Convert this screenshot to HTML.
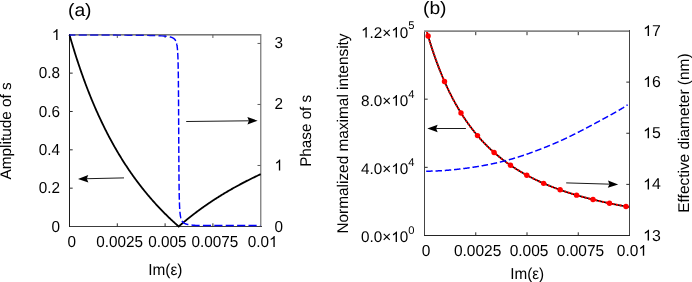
<!DOCTYPE html>
<html><head><meta charset="utf-8"><title>figure</title>
<style>
html,body{margin:0;padding:0;background:#fff;}
body{width:692px;height:282px;overflow:hidden;font-family:"Liberation Sans",sans-serif;}
text{text-rendering:geometricPrecision;}
svg{display:block;position:absolute;left:0;top:0;will-change:transform;}
</style></head><body>
<svg width="692" height="282" viewBox="0 0 692 282">
<rect width="692" height="282" fill="#fff"/>
<rect x="69" y="34" width="193" height="1" fill="#858585" shape-rendering="crispEdges"/>
<rect x="69" y="35" width="193" height="1" fill="#c8c8c8" shape-rendering="crispEdges"/>
<rect x="260" y="34" width="1" height="193" fill="#8a8a8a" shape-rendering="crispEdges"/>
<rect x="261" y="34" width="1" height="193" fill="#cacaca" shape-rendering="crispEdges"/>
<rect x="69" y="226" width="193" height="1" fill="#3c3c3c" shape-rendering="crispEdges"/>
<rect x="69" y="34" width="1" height="193" fill="#1c1c1c" shape-rendering="crispEdges"/>
<path d="M117.30,226.5 v-3.2" stroke="#2a2a2a" stroke-width="1"/>
<path d="M117.30,34.8 v3.2" stroke="#5e5e5e" stroke-width="1"/>
<path d="M165.10,226.5 v-3.2" stroke="#2a2a2a" stroke-width="1"/>
<path d="M165.10,34.8 v3.2" stroke="#5e5e5e" stroke-width="1"/>
<path d="M212.90,226.5 v-3.2" stroke="#2a2a2a" stroke-width="1"/>
<path d="M212.90,34.8 v3.2" stroke="#5e5e5e" stroke-width="1"/>
<path d="M69.5,188.16 h3.2" stroke="#2a2a2a" stroke-width="1"/>
<path d="M69.5,149.82 h3.2" stroke="#2a2a2a" stroke-width="1"/>
<path d="M69.5,111.48 h3.2" stroke="#2a2a2a" stroke-width="1"/>
<path d="M69.5,73.14 h3.2" stroke="#2a2a2a" stroke-width="1"/>
<path d="M260.7,165.48 h-3.2" stroke="#5e5e5e" stroke-width="1"/>
<path d="M260.7,104.46 h-3.2" stroke="#5e5e5e" stroke-width="1"/>
<path d="M260.7,43.44 h-3.2" stroke="#5e5e5e" stroke-width="1"/>
<path d="M69.50,34.80 L69.98,36.47 L70.46,38.13 L70.93,39.77 L71.41,41.40 L71.89,43.01 L72.37,44.61 L72.85,46.20 L73.32,47.77 L73.80,49.33 L74.28,50.88 L74.76,52.41 L75.24,53.93 L75.71,55.44 L76.19,56.94 L76.67,58.42 L77.15,59.89 L77.63,61.35 L78.10,62.80 L78.58,64.24 L79.06,65.66 L79.54,67.08 L80.02,68.48 L80.49,69.87 L80.97,71.25 L81.45,72.62 L81.93,73.98 L82.41,75.32 L82.88,76.66 L83.36,77.99 L83.84,79.30 L84.32,80.61 L84.80,81.91 L85.27,83.19 L85.75,84.47 L86.23,85.74 L86.71,86.99 L87.19,88.24 L87.66,89.48 L88.14,90.71 L88.62,91.93 L89.10,93.14 L89.58,94.34 L90.05,95.53 L90.53,96.72 L91.01,97.89 L91.49,99.06 L91.97,100.22 L92.44,101.37 L92.92,102.51 L93.40,103.64 L93.88,104.77 L94.36,105.89 L94.83,107.00 L95.31,108.10 L95.79,109.19 L96.27,110.28 L96.75,111.36 L97.22,112.43 L97.70,113.49 L98.18,114.55 L98.66,115.60 L99.14,116.64 L99.61,117.68 L100.09,118.70 L100.57,119.72 L101.05,120.74 L101.53,121.74 L102.00,122.74 L102.48,123.74 L102.96,124.72 L103.44,125.70 L103.92,126.68 L104.39,127.64 L104.87,128.61 L105.35,129.56 L105.83,130.51 L106.31,131.45 L106.78,132.39 L107.26,133.31 L107.74,134.24 L108.22,135.16 L108.70,136.07 L109.17,136.97 L109.65,137.87 L110.13,138.77 L110.61,139.66 L111.09,140.54 L111.56,141.42 L112.04,142.29 L112.52,143.16 L113.00,144.02 L113.48,144.87 L113.95,145.72 L114.43,146.57 L114.91,147.41 L115.39,148.24 L115.87,149.07 L116.34,149.90 L116.82,150.72 L117.30,151.53 L117.78,152.34 L118.26,153.14 L118.73,153.94 L119.21,154.74 L119.69,155.53 L120.17,156.31 L120.65,157.09 L121.12,157.87 L121.60,158.64 L122.08,159.41 L122.56,160.17 L123.04,160.93 L123.51,161.68 L123.99,162.43 L124.47,163.18 L124.95,163.92 L125.43,164.65 L125.90,165.38 L126.38,166.11 L126.86,166.84 L127.34,167.55 L127.82,168.27 L128.29,168.98 L128.77,169.69 L129.25,170.39 L129.73,171.09 L130.21,171.79 L130.68,172.48 L131.16,173.16 L131.64,173.85 L132.12,174.53 L132.60,175.20 L133.07,175.88 L133.55,176.54 L134.03,177.21 L134.51,177.87 L134.99,178.53 L135.46,179.18 L135.94,179.83 L136.42,180.48 L136.90,181.12 L137.38,181.76 L137.85,182.40 L138.33,183.03 L138.81,183.66 L139.29,184.29 L139.77,184.91 L140.24,185.53 L140.72,186.15 L141.20,186.76 L141.68,187.37 L142.16,187.98 L142.63,188.58 L143.11,189.18 L143.59,189.78 L144.07,190.37 L144.55,190.96 L145.02,191.55 L145.50,192.14 L145.98,192.72 L146.46,193.30 L146.94,193.87 L147.41,194.45 L147.89,195.02 L148.37,195.58 L148.85,196.15 L149.33,196.71 L149.80,197.27 L150.28,197.83 L150.76,198.38 L151.24,198.93 L151.72,199.48 L152.19,200.02 L152.67,200.56 L153.15,201.10 L153.63,201.64 L154.11,202.17 L154.58,202.70 L155.06,203.23 L155.54,203.76 L156.02,204.28 L156.50,204.80 L156.97,205.32 L157.45,205.84 L157.93,206.35 L158.41,206.86 L158.89,207.37 L159.36,207.88 L159.84,208.38 L160.32,208.88 L160.80,209.38 L161.28,209.88 L161.75,210.37 L162.23,210.87 L162.71,211.36 L163.19,211.84 L163.67,212.33 L164.14,212.81 L164.62,213.29 L165.10,213.77 L165.58,214.25 L166.06,214.72 L166.53,215.19 L167.01,215.66 L167.49,216.13 L167.97,216.59 L168.45,217.06 L168.92,217.52 L169.40,217.98 L169.88,218.43 L170.36,218.89 L170.84,219.34 L171.31,219.79 L171.79,220.24 L172.27,220.68 L172.75,221.13 L173.23,221.57 L173.70,222.01 L174.18,222.45 L174.66,222.89 L175.14,223.32 L175.62,223.75 L176.09,224.18 L176.57,224.61 L177.05,225.04 L177.53,225.47 L178.01,225.89 L178.48,226.31 L178.70,226.50 L178.96,226.27 L179.44,225.85 L179.92,225.44 L180.40,225.02 L180.87,224.61 L181.35,224.20 L181.83,223.79 L182.31,223.38 L182.79,222.98 L183.26,222.58 L183.74,222.17 L184.22,221.77 L184.70,221.38 L185.18,220.98 L185.65,220.58 L186.13,220.19 L186.61,219.80 L187.09,219.41 L187.57,219.02 L188.04,218.63 L188.52,218.25 L189.00,217.87 L189.48,217.48 L189.96,217.10 L190.43,216.73 L190.91,216.35 L191.39,215.97 L191.87,215.60 L192.35,215.23 L192.82,214.86 L193.30,214.49 L193.78,214.12 L194.26,213.75 L194.74,213.39 L195.21,213.02 L195.69,212.66 L196.17,212.30 L196.65,211.94 L197.13,211.58 L197.60,211.23 L198.08,210.87 L198.56,210.52 L199.04,210.17 L199.52,209.82 L199.99,209.47 L200.47,209.12 L200.95,208.78 L201.43,208.43 L201.91,208.09 L202.38,207.75 L202.86,207.40 L203.34,207.06 L203.82,206.73 L204.30,206.39 L204.77,206.05 L205.25,205.72 L205.73,205.39 L206.21,205.06 L206.69,204.73 L207.16,204.40 L207.64,204.07 L208.12,203.74 L208.60,203.42 L209.08,203.09 L209.55,202.77 L210.03,202.45 L210.51,202.13 L210.99,201.81 L211.47,201.49 L211.94,201.18 L212.42,200.86 L212.90,200.55 L213.38,200.23 L213.86,199.92 L214.33,199.61 L214.81,199.30 L215.29,198.99 L215.77,198.68 L216.25,198.38 L216.72,198.07 L217.20,197.77 L217.68,197.47 L218.16,197.17 L218.64,196.87 L219.11,196.57 L219.59,196.27 L220.07,195.97 L220.55,195.67 L221.03,195.38 L221.50,195.09 L221.98,194.79 L222.46,194.50 L222.94,194.21 L223.42,193.92 L223.89,193.63 L224.37,193.34 L224.85,193.06 L225.33,192.77 L225.81,192.49 L226.28,192.21 L226.76,191.92 L227.24,191.64 L227.72,191.36 L228.20,191.08 L228.67,190.80 L229.15,190.53 L229.63,190.25 L230.11,189.97 L230.59,189.70 L231.06,189.43 L231.54,189.15 L232.02,188.88 L232.50,188.61 L232.98,188.34 L233.45,188.07 L233.93,187.81 L234.41,187.54 L234.89,187.27 L235.37,187.01 L235.84,186.74 L236.32,186.48 L236.80,186.22 L237.28,185.96 L237.76,185.70 L238.23,185.44 L238.71,185.18 L239.19,184.92 L239.67,184.66 L240.15,184.41 L240.62,184.15 L241.10,183.90 L241.58,183.65 L242.06,183.39 L242.54,183.14 L243.01,182.89 L243.49,182.64 L243.97,182.39 L244.45,182.14 L244.93,181.90 L245.40,181.65 L245.88,181.40 L246.36,181.16 L246.84,180.91 L247.32,180.67 L247.79,180.43 L248.27,180.19 L248.75,179.95 L249.23,179.71 L249.71,179.47 L250.18,179.23 L250.66,178.99 L251.14,178.75 L251.62,178.52 L252.10,178.28 L252.57,178.05 L253.05,177.81 L253.53,177.58 L254.01,177.35 L254.49,177.12 L254.96,176.88 L255.44,176.65 L255.92,176.43 L256.40,176.20 L256.88,175.97 L257.35,175.74 L257.83,175.52 L258.31,175.29 L258.79,175.06 L259.27,174.84 L259.74,174.62 L260.22,174.39 L260.70,174.17" fill="none" stroke="#000" stroke-width="1.8" stroke-linejoin="miter"/>
<path d="M69.50,34.97 L71.51,34.97 L73.52,34.97 L75.45,34.98M78.70,34.98 L79.55,34.98 L81.56,34.99 L83.57,34.99 L85.58,35.00 L86.85,35.00M90.10,35.01 L91.61,35.01 L93.62,35.02 L95.63,35.02 L97.64,35.03 L98.25,35.03M101.50,35.04 L101.66,35.04 L103.67,35.04 L105.68,35.05 L107.69,35.06 L109.65,35.07M112.90,35.08 L113.72,35.08 L115.73,35.09 L117.74,35.10 L119.76,35.11 L121.05,35.12M124.30,35.14 L125.79,35.15 L127.80,35.16 L129.81,35.17 L131.82,35.19 L132.45,35.20M135.70,35.23 L135.84,35.23 L137.85,35.25 L139.86,35.27 L141.87,35.30 L143.85,35.33M147.10,35.38 L147.90,35.39 L149.91,35.44 L151.92,35.48 L153.93,35.54 L155.24,35.58M158.49,35.71 L159.96,35.78 L161.97,35.89 L163.98,36.04 L165.99,36.24 L166.60,36.32M169.78,36.85 L169.81,36.86 L169.85,36.87 L169.90,36.88 L169.94,36.89 L169.98,36.90 L170.03,36.91 L170.07,36.92 L170.12,36.93 L170.16,36.94 L170.20,36.95 L170.25,36.97 L170.29,36.98 L170.34,36.99 L170.38,37.00 L170.42,37.01 L170.47,37.02 L170.51,37.03 L170.56,37.05 L170.60,37.06 L170.65,37.07 L170.69,37.08 L170.73,37.10 L170.78,37.11 L170.82,37.12 L170.87,37.14 L170.91,37.15 L170.95,37.16 L171.00,37.18 L171.04,37.19 L171.09,37.20 L171.13,37.22 L171.17,37.23 L171.22,37.25 L171.26,37.26 L171.31,37.27 L171.35,37.29 L171.39,37.30 L171.44,37.32 L171.48,37.34 L171.53,37.35 L171.57,37.37 L171.62,37.38 L171.66,37.40 L171.70,37.41 L171.75,37.43 L171.79,37.45 L171.84,37.47 L171.88,37.48 L171.92,37.50 L171.97,37.52 L172.01,37.54 L172.06,37.55 L172.10,37.57 L172.14,37.59 L172.19,37.61 L172.23,37.63 L172.28,37.65 L172.32,37.67 L172.36,37.69 L172.41,37.71 L172.45,37.73 L172.50,37.75 L172.54,37.77 L172.59,37.79 L172.63,37.81 L172.67,37.84 L172.72,37.86 L172.76,37.88 L172.81,37.90 L172.85,37.93 L172.89,37.95 L172.94,37.97 L172.98,38.00 L173.03,38.02 L173.07,38.05 L173.11,38.07 L173.16,38.10 L173.20,38.13 L173.25,38.15 L173.29,38.18 L173.33,38.21 L173.38,38.24 L173.42,38.27 L173.47,38.29 L173.51,38.32 L173.56,38.35 L173.60,38.38 L173.64,38.42 L173.69,38.45 L173.73,38.48 L173.78,38.51 L173.82,38.55 L173.86,38.58 L173.91,38.61 L173.95,38.65 L174.00,38.69 L174.04,38.72 L174.08,38.76 L174.13,38.80 L174.17,38.84 L174.22,38.88 L174.26,38.92 L174.30,38.96 L174.35,39.00 L174.39,39.04 L174.44,39.09 L174.48,39.13 L174.53,39.18 L174.57,39.22 L174.61,39.27 L174.66,39.32 L174.70,39.37 L174.75,39.42 L174.79,39.47 L174.83,39.53 L174.88,39.58 L174.92,39.64 L174.97,39.69 L175.01,39.75 L175.05,39.81 L175.10,39.87 L175.14,39.93 L175.19,40.00 L175.23,40.06 L175.27,40.13 L175.32,40.20 L175.36,40.27 L175.41,40.34 L175.45,40.42 L175.49,40.50 L175.54,40.57 L175.58,40.66 L175.63,40.74 L175.67,40.82 L175.72,40.91 L175.75,40.98M176.62,43.55 L176.64,43.63 L176.69,43.82 L176.73,44.02 L176.77,44.23 L176.82,44.44 L176.86,44.67 L176.91,44.91 L176.95,45.16 L176.99,45.42 L177.04,45.70 L177.08,45.99 L177.13,46.29 L177.17,46.62 L177.21,46.96 L177.26,47.32 L177.30,47.70 L177.35,48.11 L177.39,48.55 L177.43,49.01 L177.48,49.50 L177.52,50.03 L177.53,50.18M177.71,52.84 L177.74,53.35 L177.79,54.18 L177.83,55.10 L177.88,56.10 L177.92,57.20 L177.96,58.42 L178.00,59.52M178.08,62.18 L178.10,62.94 L178.14,64.82 L178.18,66.95 L178.22,68.87M178.26,71.53 L178.27,72.14 L178.32,75.32 L178.35,78.21M178.38,80.88 L178.40,83.22 L178.44,87.56M178.47,90.22 L178.49,93.79 L178.51,96.91M178.53,99.57 L178.54,100.29 L178.57,106.25M178.59,108.92 L178.62,115.60M178.64,118.27 L178.67,124.44 L178.67,124.95M178.69,127.61 L178.71,133.38 L178.72,134.30M178.73,136.96 L178.76,142.21 L178.77,143.64M178.78,146.31 L178.80,150.58 L178.82,152.99M178.83,155.66 L178.85,158.24 L178.87,162.34M178.89,165.00 L178.89,165.07 L178.93,171.05 L178.94,171.68M178.96,174.35 L178.98,176.25 L179.02,180.74 L179.03,181.03M179.06,183.70 L179.07,184.61 L179.11,187.97 L179.15,190.38M179.19,193.04 L179.20,193.44 L179.24,195.68 L179.29,197.65 L179.33,199.41 L179.34,199.72M179.42,202.39 L179.46,203.64 L179.51,204.78 L179.55,205.82 L179.60,206.77 L179.64,207.64 L179.68,208.43 L179.72,209.07M179.92,211.73 L179.95,212.10 L179.99,212.58 L180.04,213.02 L180.08,213.44 L180.12,213.83 L180.17,214.20 L180.21,214.55 L180.26,214.88 L180.30,215.19 L180.34,215.49 L180.39,215.77 L180.43,216.04 L180.48,216.29 L180.52,216.54 L180.57,216.77 L180.61,216.99 L180.65,217.20 L180.70,217.40 L180.74,217.60 L180.79,217.78 L180.83,217.96 L180.87,218.13 L180.92,218.30 L180.93,218.35M181.95,220.88 L181.98,220.93 L182.02,221.00 L182.06,221.07 L182.11,221.14 L182.15,221.21 L182.20,221.28 L182.24,221.34 L182.28,221.40 L182.33,221.47 L182.37,221.53 L182.42,221.59 L182.46,221.64 L182.51,221.70 L182.55,221.75 L182.59,221.81 L182.64,221.86 L182.68,221.91 L182.73,221.96 L182.77,222.01 L182.81,222.06 L182.86,222.10 L182.90,222.15 L182.95,222.20 L182.99,222.24 L183.03,222.28 L183.08,222.33 L183.12,222.37 L183.17,222.41 L183.21,222.45 L183.25,222.49 L183.30,222.52 L183.34,222.56 L183.39,222.60 L183.43,222.64 L183.47,222.67 L183.52,222.71 L183.56,222.74 L183.61,222.77 L183.65,222.81 L183.70,222.84 L183.74,222.87 L183.78,222.90 L183.83,222.93 L183.87,222.96 L183.92,222.99 L183.96,223.02 L184.00,223.05 L184.05,223.08 L184.09,223.11 L184.14,223.14 L184.18,223.16 L184.22,223.19 L184.27,223.22 L184.31,223.24 L184.36,223.27 L184.40,223.29 L184.44,223.32 L184.49,223.34 L184.53,223.36 L184.58,223.39 L184.62,223.41 L184.67,223.43 L184.71,223.46 L184.75,223.48 L184.80,223.50 L184.84,223.52 L184.89,223.54 L184.93,223.56 L184.97,223.58 L185.02,223.60 L185.06,223.62 L185.11,223.64 L185.15,223.66 L185.19,223.68 L185.24,223.70 L185.28,223.72 L185.33,223.74 L185.37,223.76 L185.41,223.78 L185.46,223.79 L185.50,223.81 L185.55,223.83 L185.59,223.85 L185.64,223.86 L185.68,223.88 L185.72,223.90 L185.77,223.91 L185.81,223.93 L185.86,223.94 L185.90,223.96 L185.94,223.97 L185.99,223.99 L186.03,224.00 L186.08,224.02 L186.12,224.03 L186.16,224.05 L186.21,224.06 L186.25,224.08 L186.30,224.09 L186.34,224.11 L186.38,224.12 L186.43,224.13 L186.47,224.15 L186.52,224.16 L186.56,224.17 L186.61,224.19 L186.65,224.20 L186.69,224.21 L186.74,224.22 L186.78,224.24 L186.83,224.25 L186.87,224.26 L186.91,224.27 L186.96,224.28 L187.00,224.30 L187.05,224.31 L187.09,224.32 L187.13,224.33 L187.18,224.34 L187.22,224.35 L187.27,224.36 L187.31,224.37 L187.35,224.39 L187.40,224.40 L187.44,224.41 L187.49,224.42 L187.53,224.43 L187.58,224.44 L187.62,224.45 L187.66,224.46 L187.71,224.47 L187.75,224.48 L187.80,224.49 L187.84,224.50 L187.88,224.51 L187.93,224.52 L187.97,224.53 L188.02,224.54 L188.06,224.54 L188.10,224.55 L188.15,224.56 L188.19,224.57 L188.24,224.58 L188.28,224.59 L188.32,224.60 L188.33,224.60M191.53,225.07 L192.87,225.21 L194.30,225.33 L195.73,225.43 L197.16,225.51 L198.60,225.55 L199.65,225.55M202.90,225.55 L204.33,225.55 L205.76,225.55 L207.19,225.55 L208.62,225.55 L210.06,225.55 L211.05,225.55M214.30,225.55 L214.36,225.55 L215.79,225.55 L217.22,225.55 L218.65,225.55 L220.09,225.55 L221.52,225.55 L222.45,225.55M225.70,225.55 L225.82,225.55 L227.25,225.55 L228.68,225.55 L230.11,225.55 L231.55,225.55 L232.98,225.55 L233.85,225.55M237.10,225.55 L237.28,225.55 L238.71,225.55 L240.14,225.55 L241.58,225.55 L243.01,225.55 L244.44,225.55 L245.25,225.55M248.50,225.55 L248.74,225.55 L250.17,225.55 L251.60,225.55 L253.04,225.55 L254.47,225.55 L255.90,225.55 L256.65,225.55M259.90,225.55 L260.20,225.55" fill="none" stroke="#0000ff" stroke-width="1.45"/>
<path d="M70.5,34.8 H260.7" fill="none" stroke="#5e5e5e" stroke-width="1.2" opacity="0.45"/>
<text transform="translate(60.10,231.60) scale(0.9623,1)" font-size="15.9" text-anchor="end" font-family="Liberation Sans, sans-serif" fill="#000">0</text>
<text transform="translate(60.10,193.26) scale(0.9623,1)" font-size="15.9" text-anchor="end" font-family="Liberation Sans, sans-serif" fill="#000">0.2</text>
<text transform="translate(60.10,154.92) scale(0.9623,1)" font-size="15.9" text-anchor="end" font-family="Liberation Sans, sans-serif" fill="#000">0.4</text>
<text transform="translate(60.10,116.58) scale(0.9623,1)" font-size="15.9" text-anchor="end" font-family="Liberation Sans, sans-serif" fill="#000">0.6</text>
<text transform="translate(60.10,78.24) scale(0.9623,1)" font-size="15.9" text-anchor="end" font-family="Liberation Sans, sans-serif" fill="#000">0.8</text>
<path d="M57.49,39.90 L56.15,39.90 L56.15,31.38 Q55.66,31.84 54.87,32.30 Q54.09,32.76 53.46,32.99 L53.46,31.70 Q54.59,31.17 55.43,30.42 Q56.28,29.67 56.63,28.96 L57.49,28.96Z" fill="#000"/>
<text transform="translate(274.50,231.50) scale(0.9623,1)" font-size="15.9" text-anchor="start" font-family="Liberation Sans, sans-serif" fill="#000">0</text>
<path d="M280.20,170.48 L278.86,170.48 L278.86,161.96 Q278.37,162.42 277.58,162.88 Q276.79,163.34 276.17,163.57 L276.17,162.28 Q277.29,161.75 278.14,161.00 Q278.98,160.25 279.33,159.54 L280.20,159.54Z" fill="#000"/>
<text transform="translate(274.50,109.46) scale(0.9623,1)" font-size="15.9" text-anchor="start" font-family="Liberation Sans, sans-serif" fill="#000">2</text>
<text transform="translate(274.50,48.44) scale(0.9623,1)" font-size="15.9" text-anchor="start" font-family="Liberation Sans, sans-serif" fill="#000">3</text>
<text transform="translate(71.75,246.90) scale(0.9623,1)" font-size="15.9" text-anchor="middle" font-family="Liberation Sans, sans-serif" fill="#000">0</text>
<text transform="translate(119.60,246.90) scale(0.9623,1)" font-size="15.9" text-anchor="middle" font-family="Liberation Sans, sans-serif" fill="#000">0.0025</text>
<text transform="translate(167.30,246.90) scale(0.9623,1)" font-size="15.9" text-anchor="middle" font-family="Liberation Sans, sans-serif" fill="#000">0.005</text>
<text transform="translate(214.95,246.90) scale(0.9623,1)" font-size="15.9" text-anchor="middle" font-family="Liberation Sans, sans-serif" fill="#000">0.0075</text>
<text transform="translate(247.76,246.90) scale(0.9623,1)" font-size="15.9" font-family="Liberation Sans, sans-serif" fill="#000">0.0</text>
<path d="M274.73,246.90 L273.39,246.90 L273.39,238.38 Q272.90,238.84 272.11,239.30 Q271.32,239.76 270.70,239.99 L270.70,238.70 Q271.82,238.17 272.67,237.42 Q273.51,236.67 273.86,235.96 L274.73,235.96Z" fill="#000"/>
<text transform="translate(148.17,275.30) scale(0.9686,1)" font-size="15.9" text-anchor="start" font-family="Liberation Sans, sans-serif" fill="#000">Im(ε)</text>
<text transform="translate(67.96,16.00) scale(1.0722,1)" font-size="18" text-anchor="start" font-family="Liberation Sans, sans-serif" fill="#000">(a)</text>
<text transform="translate(11.10,179.50) rotate(-90) scale(1.0033,1)" font-size="15.3" text-anchor="start" font-family="Liberation Sans, sans-serif" fill="#000">Amplitude of s</text>
<text transform="translate(311.00,166.85) rotate(-90) scale(0.9782,1)" font-size="15.6" text-anchor="start" font-family="Liberation Sans, sans-serif" fill="#000">Phase of s</text>
<path d="M186.20,121.50 L248.90,120.80" stroke="#000" stroke-width="0.9" fill="none"/>
<path d="M257.70,120.70 L247.44,124.52 L248.90,120.80 L247.36,117.12 Z" fill="#000"/>
<path d="M124.00,177.90 L86.80,178.71" stroke="#000" stroke-width="0.9" fill="none"/>
<path d="M78.00,178.90 L88.22,174.98 L86.80,178.71 L88.38,182.38 Z" fill="#000"/>
<path d="M424.90,31.00 L425.13,31.00 L425.35,31.00 L425.58,31.00 L425.81,31.00 L426.04,31.00 L426.26,31.00 L426.49,31.00 L426.72,31.26 L426.95,32.06 L427.17,32.84 L427.40,33.62 L427.63,34.40 L427.85,35.17 L428.08,35.94 L428.31,36.71 L428.54,37.47 L428.76,38.22 L428.99,38.97 L429.22,39.72 L429.45,40.46 L429.67,41.20 L429.90,41.93 L430.13,42.66 L430.35,43.38 L430.58,44.10 L430.81,44.82 L431.04,45.53 L431.26,46.24 L431.49,46.95 L431.72,47.65 L431.94,48.34 L432.17,49.04 L432.40,49.72 L432.63,50.41 L432.85,51.09 L433.08,51.77 L433.31,52.44 L433.54,53.11 L433.76,53.78 L433.99,54.44 L434.22,55.10 L434.44,55.75 L434.67,56.40 L434.90,57.05 L435.13,57.69 L435.35,58.33 L435.58,58.97 L435.81,59.60 L436.04,60.23 L436.26,60.86 L436.49,61.48 L436.72,62.10 L436.94,62.72 L437.17,63.33 L437.40,63.94 L437.63,64.55 L437.85,65.15 L438.08,65.75 L438.31,66.35 L438.54,66.94 L438.76,67.53 L438.99,68.12 L439.22,68.70 L439.44,69.28 L439.67,69.86 L439.90,70.44 L440.13,71.01 L440.35,71.58 L440.58,72.14 L440.81,72.71 L441.03,73.27 L441.26,73.82 L441.49,74.38 L441.72,74.93 L441.94,75.48 L442.17,76.02 L442.40,76.56 L442.63,77.10 L442.85,77.64 L443.08,78.17 L443.31,78.71 L443.53,79.23 L443.76,79.76 L443.99,80.28 L444.22,80.80 L444.44,81.32 L444.67,81.84 L444.90,82.35 L445.13,82.86 L445.35,83.37 L445.58,83.87 L445.81,84.37 L446.03,84.87 L446.26,85.37 L446.49,85.87 L446.72,86.36 L446.94,86.85 L447.17,87.34 L447.40,87.82 L447.63,88.30 L447.85,88.78 L448.08,89.26 L448.31,89.74 L448.53,90.21 L448.76,90.68 L448.99,91.15 L449.22,91.61 L449.44,92.08 L449.67,92.54 L449.90,93.00 L450.13,93.45 L450.35,93.91 L450.58,94.36 L450.81,94.81 L451.03,95.26 L451.26,95.71 L451.49,96.15 L451.72,96.59 L451.94,97.03 L452.17,97.47 L452.40,97.90 L452.62,98.34 L452.85,98.77 L453.08,99.20 L453.31,99.62 L453.53,100.05 L453.76,100.47 L453.99,100.89 L454.22,101.31 L454.44,101.73 L454.67,102.14 L454.90,102.55 L455.12,102.97 L455.35,103.37 L455.58,103.78 L455.81,104.19 L456.03,104.59 L456.26,104.99 L456.49,105.39 L456.72,105.79 L456.94,106.18 L457.17,106.58 L457.40,106.97 L457.62,107.36 L457.85,107.75 L458.08,108.14 L458.31,108.52 L458.53,108.90 L458.76,109.29 L458.99,109.67 L459.22,110.04 L459.44,110.42 L459.67,110.79 L459.90,111.17 L460.12,111.54 L460.35,111.91 L460.58,112.27 L460.81,112.64 L461.03,113.01 L461.26,113.37 L461.49,113.73 L461.71,114.09 L461.94,114.45 L462.17,114.80 L462.40,115.16 L462.62,115.51 L462.85,115.86 L463.08,116.21 L463.31,116.56 L463.53,116.91 L463.76,117.25 L463.99,117.60 L464.21,117.94 L464.44,118.28 L464.67,118.62 L464.90,118.96 L465.12,119.29 L465.35,119.63 L465.58,119.96 L465.81,120.29 L466.03,120.62 L466.26,120.95 L466.49,121.28 L466.71,121.60 L466.94,121.93 L467.17,122.25 L467.40,122.57 L467.62,122.89 L467.85,123.21 L468.08,123.53 L468.31,123.85 L468.53,124.16 L468.76,124.47 L468.99,124.79 L469.21,125.10 L469.44,125.41 L469.67,125.72 L469.90,126.02 L470.12,126.33 L470.35,126.63 L470.58,126.93 L470.81,127.24 L471.03,127.54 L471.26,127.84 L471.49,128.13 L471.71,128.43 L471.94,128.73 L472.17,129.02 L472.40,129.31 L472.62,129.60 L472.85,129.89 L473.08,130.18 L473.30,130.47 L473.53,130.76 L473.76,131.04 L473.99,131.33 L474.21,131.61 L474.44,131.89 L474.67,132.18 L474.90,132.45 L475.12,132.73 L475.35,133.01 L475.58,133.29 L475.80,133.56 L476.03,133.84 L476.26,134.11 L476.49,134.38 L476.71,134.65 L476.94,134.92 L477.17,135.19 L477.40,135.46 L477.62,135.72 L477.85,135.99 L478.08,136.25 L478.30,136.52 L478.53,136.78 L478.76,137.04 L478.99,137.30 L479.21,137.56 L479.44,137.82 L479.67,138.07 L479.90,138.33 L480.12,138.58 L480.35,138.84 L480.58,139.09 L480.80,139.34 L481.03,139.59 L481.26,139.84 L481.49,140.09 L481.71,140.34 L481.94,140.58 L482.17,140.83 L482.39,141.07 L482.62,141.32 L482.85,141.56 L483.08,141.80 L483.30,142.04 L483.53,142.28 L483.76,142.52 L483.99,142.76 L484.21,143.00 L484.44,143.23 L484.67,143.47 L484.89,143.70 L485.12,143.94 L485.35,144.17 L485.58,144.40 L485.80,144.63 L486.03,144.86 L486.26,145.09 L486.49,145.32 L486.71,145.55 L486.94,145.77 L487.17,146.00 L487.39,146.22 L487.62,146.45 L487.85,146.67 L488.08,146.89 L488.30,147.11 L488.53,147.34 L488.76,147.55 L488.99,147.77 L489.21,147.99 L489.44,148.21 L489.67,148.42 L489.89,148.64 L490.12,148.85 L490.35,149.07 L490.58,149.28 L490.80,149.49 L491.03,149.71 L491.26,149.92 L491.48,150.13 L491.71,150.33 L491.94,150.54 L492.17,150.75 L492.39,150.96 L492.62,151.16 L492.85,151.37 L493.08,151.57 L493.30,151.78 L493.53,151.98 L493.76,152.18 L493.98,152.38 L494.21,152.58 L494.44,152.78 L494.67,152.98 L494.89,153.18 L495.12,153.38 L495.35,153.58 L495.58,153.77 L495.80,153.97 L496.03,154.16 L496.26,154.36 L496.48,154.55 L496.71,154.74 L496.94,154.94 L497.17,155.13 L497.39,155.32 L497.62,155.51 L497.85,155.70 L498.08,155.89 L498.30,156.07 L498.53,156.26 L498.76,156.45 L498.98,156.63 L499.21,156.82 L499.44,157.00 L499.67,157.19 L499.89,157.37 L500.12,157.55 L500.35,157.73 L500.58,157.92 L500.80,158.10 L501.03,158.28 L501.26,158.46 L501.48,158.63 L501.71,158.81 L501.94,158.99 L502.17,159.17 L502.39,159.34 L502.62,159.52 L502.85,159.69 L503.07,159.87 L503.30,160.04 L503.53,160.22 L503.76,160.39 L503.98,160.56 L504.21,160.73 L504.44,160.90 L504.67,161.07 L504.89,161.24 L505.12,161.41 L505.35,161.58 L505.57,161.75 L505.80,161.91 L506.03,162.08 L506.26,162.25 L506.48,162.41 L506.71,162.58 L506.94,162.74 L507.17,162.90 L507.39,163.07 L507.62,163.23 L507.85,163.39 L508.07,163.55 L508.30,163.72 L508.53,163.88 L508.76,164.04 L508.98,164.20 L509.21,164.35 L509.44,164.51 L509.67,164.67 L509.89,164.83 L510.12,164.98 L510.35,165.14 L510.57,165.30 L510.80,165.45 L511.03,165.61 L511.26,165.76 L511.48,165.91 L511.71,166.07 L511.94,166.22 L512.16,166.37 L512.39,166.52 L512.62,166.67 L512.85,166.82 L513.07,166.97 L513.30,167.12 L513.53,167.27 L513.76,167.42 L513.98,167.57 L514.21,167.72 L514.44,167.86 L514.66,168.01 L514.89,168.16 L515.12,168.30 L515.35,168.45 L515.57,168.59 L515.80,168.73 L516.03,168.88 L516.26,169.02 L516.48,169.16 L516.71,169.31 L516.94,169.45 L517.16,169.59 L517.39,169.73 L517.62,169.87 L517.85,170.01 L518.07,170.15 L518.30,170.29 L518.53,170.43 L518.76,170.57 L518.98,170.70 L519.21,170.84 L519.44,170.98 L519.66,171.11 L519.89,171.25 L520.12,171.39 L520.35,171.52 L520.57,171.66 L520.80,171.79 L521.03,171.92 L521.26,172.06 L521.48,172.19 L521.71,172.32 L521.94,172.45 L522.16,172.59 L522.39,172.72 L522.62,172.85 L522.85,172.98 L523.07,173.11 L523.30,173.24 L523.53,173.37 L523.75,173.49 L523.98,173.62 L524.21,173.75 L524.44,173.88 L524.66,174.01 L524.89,174.13 L525.12,174.26 L525.35,174.38 L525.57,174.51 L525.80,174.64 L526.03,174.76 L526.25,174.88 L526.48,175.01 L526.71,175.13 L526.94,175.26 L527.16,175.38 L527.39,175.50 L527.62,175.62 L527.85,175.74 L528.07,175.87 L528.30,175.99 L528.53,176.11 L528.75,176.23 L528.98,176.35 L529.21,176.47 L529.44,176.59 L529.66,176.70 L529.89,176.82 L530.12,176.94 L530.35,177.06 L530.57,177.17 L530.80,177.29 L531.03,177.41 L531.25,177.52 L531.48,177.64 L531.71,177.76 L531.94,177.87 L532.16,177.99 L532.39,178.10 L532.62,178.21 L532.84,178.33 L533.07,178.44 L533.30,178.55 L533.53,178.67 L533.75,178.78 L533.98,178.89 L534.21,179.00 L534.44,179.11 L534.66,179.23 L534.89,179.34 L535.12,179.45 L535.34,179.56 L535.57,179.67 L535.80,179.78 L536.03,179.88 L536.25,179.99 L536.48,180.10 L536.71,180.21 L536.94,180.32 L537.16,180.42 L537.39,180.53 L537.62,180.64 L537.84,180.74 L538.07,180.85 L538.30,180.96 L538.53,181.06 L538.75,181.17 L538.98,181.27 L539.21,181.38 L539.44,181.48 L539.66,181.59 L539.89,181.69 L540.12,181.79 L540.34,181.90 L540.57,182.00 L540.80,182.10 L541.03,182.20 L541.25,182.30 L541.48,182.41 L541.71,182.51 L541.94,182.61 L542.16,182.71 L542.39,182.81 L542.62,182.91 L542.84,183.01 L543.07,183.11 L543.30,183.21 L543.53,183.31 L543.75,183.41 L543.98,183.50 L544.21,183.60 L544.43,183.70 L544.66,183.80 L544.89,183.89 L545.12,183.99 L545.34,184.09 L545.57,184.18 L545.80,184.28 L546.03,184.38 L546.25,184.47 L546.48,184.57 L546.71,184.66 L546.93,184.76 L547.16,184.85 L547.39,184.95 L547.62,185.04 L547.84,185.13 L548.07,185.23 L548.30,185.32 L548.53,185.41 L548.75,185.51 L548.98,185.60 L549.21,185.69 L549.43,185.78 L549.66,185.87 L549.89,185.96 L550.12,186.06 L550.34,186.15 L550.57,186.24 L550.80,186.33 L551.03,186.42 L551.25,186.51 L551.48,186.60 L551.71,186.69 L551.93,186.78 L552.16,186.86 L552.39,186.95 L552.62,187.04 L552.84,187.13 L553.07,187.22 L553.30,187.30 L553.52,187.39 L553.75,187.48 L553.98,187.57 L554.21,187.65 L554.43,187.74 L554.66,187.83 L554.89,187.91 L555.12,188.00 L555.34,188.08 L555.57,188.17 L555.80,188.25 L556.02,188.34 L556.25,188.42 L556.48,188.51 L556.71,188.59 L556.93,188.67 L557.16,188.76 L557.39,188.84 L557.62,188.92 L557.84,189.01 L558.07,189.09 L558.30,189.17 L558.52,189.25 L558.75,189.34 L558.98,189.42 L559.21,189.50 L559.43,189.58 L559.66,189.66 L559.89,189.74 L560.12,189.82 L560.34,189.90 L560.57,189.98 L560.80,190.06 L561.02,190.14 L561.25,190.22 L561.48,190.30 L561.71,190.38 L561.93,190.46 L562.16,190.54 L562.39,190.62 L562.62,190.70 L562.84,190.78 L563.07,190.85 L563.30,190.93 L563.52,191.01 L563.75,191.09 L563.98,191.16 L564.21,191.24 L564.43,191.32 L564.66,191.39 L564.89,191.47 L565.11,191.55 L565.34,191.62 L565.57,191.70 L565.80,191.77 L566.02,191.85 L566.25,191.92 L566.48,192.00 L566.71,192.07 L566.93,192.15 L567.16,192.22 L567.39,192.30 L567.61,192.37 L567.84,192.44 L568.07,192.52 L568.30,192.59 L568.52,192.66 L568.75,192.74 L568.98,192.81 L569.21,192.88 L569.43,192.95 L569.66,193.03 L569.89,193.10 L570.11,193.17 L570.34,193.24 L570.57,193.31 L570.80,193.38 L571.02,193.46 L571.25,193.53 L571.48,193.60 L571.71,193.67 L571.93,193.74 L572.16,193.81 L572.39,193.88 L572.61,193.95 L572.84,194.02 L573.07,194.09 L573.30,194.16 L573.52,194.23 L573.75,194.29 L573.98,194.36 L574.20,194.43 L574.43,194.50 L574.66,194.57 L574.89,194.64 L575.11,194.70 L575.34,194.77 L575.57,194.84 L575.80,194.91 L576.02,194.97 L576.25,195.04 L576.48,195.11 L576.70,195.17 L576.93,195.24 L577.16,195.31 L577.39,195.37 L577.61,195.44 L577.84,195.51 L578.07,195.57 L578.30,195.64 L578.52,195.70 L578.75,195.77 L578.98,195.83 L579.20,195.90 L579.43,195.96 L579.66,196.03 L579.89,196.09 L580.11,196.16 L580.34,196.22 L580.57,196.28 L580.80,196.35 L581.02,196.41 L581.25,196.47 L581.48,196.54 L581.70,196.60 L581.93,196.66 L582.16,196.73 L582.39,196.79 L582.61,196.85 L582.84,196.91 L583.07,196.98 L583.29,197.04 L583.52,197.10 L583.75,197.16 L583.98,197.22 L584.20,197.28 L584.43,197.35 L584.66,197.41 L584.89,197.47 L585.11,197.53 L585.34,197.59 L585.57,197.65 L585.79,197.71 L586.02,197.77 L586.25,197.83 L586.48,197.89 L586.70,197.95 L586.93,198.01 L587.16,198.07 L587.39,198.13 L587.61,198.19 L587.84,198.25 L588.07,198.31 L588.29,198.37 L588.52,198.42 L588.75,198.48 L588.98,198.54 L589.20,198.60 L589.43,198.66 L589.66,198.72 L589.89,198.77 L590.11,198.83 L590.34,198.89 L590.57,198.95 L590.79,199.00 L591.02,199.06 L591.25,199.12 L591.48,199.17 L591.70,199.23 L591.93,199.29 L592.16,199.34 L592.39,199.40 L592.61,199.46 L592.84,199.51 L593.07,199.57 L593.29,199.62 L593.52,199.68 L593.75,199.74 L593.98,199.79 L594.20,199.85 L594.43,199.90 L594.66,199.96 L594.88,200.01 L595.11,200.07 L595.34,200.12 L595.57,200.18 L595.79,200.23 L596.02,200.28 L596.25,200.34 L596.48,200.39 L596.70,200.45 L596.93,200.50 L597.16,200.55 L597.38,200.61 L597.61,200.66 L597.84,200.71 L598.07,200.77 L598.29,200.82 L598.52,200.87 L598.75,200.92 L598.98,200.98 L599.20,201.03 L599.43,201.08 L599.66,201.13 L599.88,201.19 L600.11,201.24 L600.34,201.29 L600.57,201.34 L600.79,201.39 L601.02,201.45 L601.25,201.50 L601.48,201.55 L601.70,201.60 L601.93,201.65 L602.16,201.70 L602.38,201.75 L602.61,201.80 L602.84,201.85 L603.07,201.90 L603.29,201.95 L603.52,202.00 L603.75,202.05 L603.97,202.10 L604.20,202.15 L604.43,202.20 L604.66,202.25 L604.88,202.30 L605.11,202.35 L605.34,202.40 L605.57,202.45 L605.79,202.50 L606.02,202.55 L606.25,202.60 L606.47,202.65 L606.70,202.70 L606.93,202.74 L607.16,202.79 L607.38,202.84 L607.61,202.89 L607.84,202.94 L608.07,202.99 L608.29,203.03 L608.52,203.08 L608.75,203.13 L608.97,203.18 L609.20,203.22 L609.43,203.27 L609.66,203.32 L609.88,203.37 L610.11,203.41 L610.34,203.46 L610.57,203.51 L610.79,203.55 L611.02,203.60 L611.25,203.65 L611.47,203.69 L611.70,203.74 L611.93,203.79 L612.16,203.83 L612.38,203.88 L612.61,203.92 L612.84,203.97 L613.07,204.01 L613.29,204.06 L613.52,204.11 L613.75,204.15 L613.97,204.20 L614.20,204.24 L614.43,204.29 L614.66,204.33 L614.88,204.38 L615.11,204.42 L615.34,204.47 L615.56,204.51 L615.79,204.56 L616.02,204.60 L616.25,204.64 L616.47,204.69 L616.70,204.73 L616.93,204.78 L617.16,204.82 L617.38,204.86 L617.61,204.91 L617.84,204.95 L618.06,205.00 L618.29,205.04 L618.52,205.08 L618.75,205.13 L618.97,205.17 L619.20,205.21 L619.43,205.25 L619.66,205.30 L619.88,205.34 L620.11,205.38 L620.34,205.43 L620.56,205.47 L620.79,205.51 L621.02,205.55 L621.25,205.60 L621.47,205.64 L621.70,205.68 L621.93,205.72 L622.16,205.76 L622.38,205.81 L622.61,205.85 L622.84,205.89 L623.06,205.93 L623.29,205.97 L623.52,206.01 L623.75,206.05 L623.97,206.10 L624.20,206.14 L624.43,206.18 L624.65,206.22 L624.88,206.26 L625.11,206.30 L625.34,206.34 L625.56,206.38 L625.79,206.42 L626.02,206.46 L626.25,206.50 L626.47,206.54 L626.70,206.58 L626.93,206.62 L627.15,206.66 L627.38,206.70 L627.61,206.74 L627.84,206.78 L628.06,206.82 L628.29,206.86 L628.52,206.90 L628.75,206.94 L628.97,206.98 L629.20,207.02" fill="none" stroke="#000" stroke-width="1.65"/>
<path d="M424.90,31.00 L425.13,31.00 L425.35,31.00 L425.58,31.00 L425.80,31.00M426.86,31.76 L426.95,32.06 L427.17,32.84 L427.30,33.28M427.70,34.65 L427.85,35.17 L428.08,35.94 L428.15,36.17M428.56,37.53 L428.76,38.22 L428.99,38.97 L429.01,39.05M429.43,40.41 L429.45,40.46 L429.67,41.20 L429.90,41.93M430.32,43.28 L430.35,43.38 L430.58,44.10 L430.80,44.80M431.24,46.16 L431.26,46.24 L431.49,46.95 L431.72,47.65 L431.72,47.67M432.17,49.02 L432.17,49.04 L432.40,49.72 L432.63,50.41 L432.67,50.53M433.12,51.88 L433.31,52.44 L433.54,53.11 L433.63,53.39M434.10,54.74 L434.22,55.10 L434.44,55.75 L434.62,56.25M435.09,57.60 L435.13,57.69 L435.35,58.33 L435.58,58.97 L435.63,59.10M436.11,60.44 L436.26,60.86 L436.49,61.48 L436.66,61.94M437.15,63.28 L437.17,63.33 L437.40,63.94 L437.63,64.55 L437.71,64.78M438.22,66.12 L438.31,66.35 L438.54,66.94 L438.76,67.53 L438.79,67.61M439.31,68.95 L439.44,69.28 L439.67,69.86 L439.90,70.44M440.43,71.77 L440.58,72.14 L440.81,72.71 L441.03,73.25M441.57,74.58 L441.72,74.93 L441.94,75.48 L442.17,76.02 L442.19,76.07M442.75,77.39 L442.85,77.64 L443.08,78.17 L443.31,78.71 L443.38,78.87M443.95,80.19 L443.99,80.28 L444.22,80.80 L444.44,81.32 L444.59,81.66M445.18,82.98 L445.35,83.37 L445.58,83.87 L445.81,84.37 L445.84,84.45M446.44,85.76 L446.49,85.87 L446.72,86.36 L446.94,86.85 L447.12,87.22M447.73,88.53 L447.85,88.78 L448.08,89.26 L448.31,89.74 L448.43,89.99M449.06,91.29 L449.22,91.61 L449.44,92.08 L449.67,92.54 L449.77,92.74M450.42,94.04 L450.58,94.36 L450.81,94.81 L451.03,95.26 L451.15,95.48M451.81,96.77 L451.94,97.03 L452.17,97.47 L452.40,97.90 L452.56,98.21M453.24,99.50 L453.31,99.62 L453.53,100.05 L453.76,100.47 L453.99,100.89 L454.01,100.93M454.71,102.21 L454.90,102.55 L455.12,102.97 L455.35,103.37 L455.50,103.63M456.21,104.91 L456.26,104.99 L456.49,105.39 L456.72,105.79 L456.94,106.18 L457.02,106.32M457.76,107.59 L457.85,107.75 L458.08,108.14 L458.31,108.52 L458.53,108.90 L458.59,109.00M459.34,110.25 L459.44,110.42 L459.67,110.79 L459.90,111.17 L460.12,111.54 L460.19,111.65M460.97,112.90 L461.03,113.01 L461.26,113.37 L461.49,113.73 L461.71,114.09 L461.84,114.29M462.64,115.53 L462.85,115.86 L463.08,116.21 L463.31,116.56 L463.53,116.91 L463.54,116.91M464.35,118.14 L464.44,118.28 L464.67,118.62 L464.90,118.96 L465.12,119.29 L465.27,119.51M466.11,120.73 L466.26,120.95 L466.49,121.28 L466.71,121.60 L466.94,121.93 L467.06,122.09M467.91,123.30 L468.08,123.53 L468.31,123.85 L468.53,124.16 L468.76,124.47 L468.88,124.65M469.76,125.85 L469.90,126.02 L470.12,126.33 L470.35,126.63 L470.58,126.93 L470.76,127.18M471.66,128.37 L471.71,128.43 L471.94,128.73 L472.17,129.02 L472.40,129.31 L472.62,129.60 L472.69,129.69M473.61,130.86 L473.76,131.04 L473.99,131.33 L474.21,131.61 L474.44,131.89 L474.66,132.17M475.61,133.33 L475.80,133.56 L476.03,133.84 L476.26,134.11 L476.49,134.38 L476.69,134.62M477.66,135.77 L477.85,135.99 L478.08,136.25 L478.30,136.52 L478.53,136.78 L478.76,137.04 L478.77,137.05M479.76,138.18 L479.90,138.33 L480.12,138.58 L480.35,138.84 L480.58,139.09 L480.80,139.34 L480.89,139.44M481.92,140.56 L481.94,140.58 L482.17,140.83 L482.39,141.07 L482.62,141.32 L482.85,141.56 L483.08,141.80M484.12,142.91 L484.21,143.00 L484.44,143.23 L484.67,143.47 L484.89,143.70 L485.12,143.94 L485.31,144.13M486.38,145.22 L486.49,145.32 L486.71,145.55 L486.94,145.77 L487.17,146.00 L487.39,146.22 L487.60,146.42M488.69,147.49 L488.76,147.55 L488.99,147.77 L489.21,147.99 L489.44,148.21 L489.67,148.42 L489.89,148.64 L489.94,148.68M491.06,149.73 L491.26,149.92 L491.48,150.13 L491.71,150.33 L491.94,150.54 L492.17,150.75 L492.33,150.90M493.48,151.93 L493.53,151.98 L493.76,152.18 L493.98,152.38 L494.21,152.58 L494.44,152.78 L494.67,152.98 L494.77,153.08M495.95,154.09 L496.03,154.16 L496.26,154.36 L496.48,154.55 L496.71,154.74 L496.94,154.94 L497.17,155.13 L497.27,155.21M498.47,156.21 L498.53,156.26 L498.76,156.45 L498.98,156.63 L499.21,156.82 L499.44,157.00 L499.67,157.19 L499.82,157.31M501.04,158.28 L501.26,158.46 L501.48,158.63 L501.71,158.81 L501.94,158.99 L502.17,159.17 L502.39,159.34 L502.42,159.36M503.66,160.32 L503.76,160.39 L503.98,160.56 L504.21,160.73 L504.44,160.90 L504.67,161.07 L504.89,161.24 L505.07,161.37M506.34,162.31 L506.48,162.41 L506.71,162.58 L506.94,162.74 L507.17,162.90 L507.39,163.07 L507.62,163.23 L507.77,163.34M509.06,164.25 L509.21,164.35 L509.44,164.51 L509.67,164.67 L509.89,164.83 L510.12,164.98 L510.35,165.14 L510.51,165.25M511.83,166.14 L511.94,166.22 L512.16,166.37 L512.39,166.52 L512.62,166.67 L512.85,166.82 L513.07,166.97 L513.30,167.12 L513.31,167.13M514.64,168.00 L514.66,168.01 L514.89,168.16 L515.12,168.30 L515.35,168.45 L515.57,168.59 L515.80,168.73 L516.03,168.88 L516.15,168.95M517.50,169.80 L517.62,169.87 L517.85,170.01 L518.07,170.15 L518.30,170.29 L518.53,170.43 L518.76,170.57 L518.98,170.70 L519.03,170.73M520.40,171.56 L520.57,171.66 L520.80,171.79 L521.03,171.92 L521.26,172.06 L521.48,172.19 L521.71,172.32 L521.94,172.45 L521.95,172.46M523.35,173.26 L523.53,173.37 L523.75,173.49 L523.98,173.62 L524.21,173.75 L524.44,173.88 L524.66,174.01 L524.89,174.13 L524.92,174.15M526.33,174.93 L526.48,175.01 L526.71,175.13 L526.94,175.26 L527.16,175.38 L527.39,175.50 L527.62,175.62 L527.85,175.74 L527.92,175.78M529.35,176.54 L529.44,176.59 L529.66,176.70 L529.89,176.82 L530.12,176.94 L530.35,177.06 L530.57,177.17 L530.80,177.29 L530.96,177.37M532.41,178.11 L532.62,178.21 L532.84,178.33 L533.07,178.44 L533.30,178.55 L533.53,178.67 L533.75,178.78 L533.98,178.89 L534.04,178.92M535.50,179.63 L535.57,179.67 L535.80,179.78 L536.03,179.88 L536.25,179.99 L536.48,180.10 L536.71,180.21 L536.94,180.32 L537.14,180.42M538.62,181.11 L538.75,181.17 L538.98,181.27 L539.21,181.38 L539.44,181.48 L539.66,181.59 L539.89,181.69 L540.12,181.79 L540.28,181.87M541.78,182.54 L541.94,182.61 L542.16,182.71 L542.39,182.81 L542.62,182.91 L542.84,183.01 L543.07,183.11 L543.30,183.21 L543.45,183.27M544.96,183.92 L545.12,183.99 L545.34,184.09 L545.57,184.18 L545.80,184.28 L546.03,184.38 L546.25,184.47 L546.48,184.57 L546.65,184.64M548.17,185.27 L548.30,185.32 L548.53,185.41 L548.75,185.51 L548.98,185.60 L549.21,185.69 L549.43,185.78 L549.66,185.87 L549.87,185.96M551.41,186.57 L551.48,186.60 L551.71,186.69 L551.93,186.78 L552.16,186.86 L552.39,186.95 L552.62,187.04 L552.84,187.13 L553.07,187.22 L553.12,187.24M554.67,187.83 L554.89,187.91 L555.12,188.00 L555.34,188.08 L555.57,188.17 L555.80,188.25 L556.02,188.34 L556.25,188.42 L556.40,188.47M557.95,189.05 L558.07,189.09 L558.30,189.17 L558.52,189.25 L558.75,189.34 L558.98,189.42 L559.21,189.50 L559.43,189.58 L559.66,189.66 L559.69,189.67M561.25,190.22 L561.48,190.30 L561.71,190.38 L561.93,190.46 L562.16,190.54 L562.39,190.62 L562.62,190.70 L562.84,190.78 L563.00,190.83M564.58,191.36 L564.66,191.39 L564.89,191.47 L565.11,191.55 L565.34,191.62 L565.57,191.70 L565.80,191.77 L566.02,191.85 L566.25,191.92 L566.34,191.95M567.92,192.47 L568.07,192.52 L568.30,192.59 L568.52,192.66 L568.75,192.74 L568.98,192.81 L569.21,192.88 L569.43,192.95 L569.66,193.03 L569.69,193.04M571.28,193.53 L571.48,193.60 L571.71,193.67 L571.93,193.74 L572.16,193.81 L572.39,193.88 L572.61,193.95 L572.84,194.02 L573.06,194.08M574.65,194.57 L574.66,194.57 L574.89,194.64 L575.11,194.70 L575.34,194.77 L575.57,194.84 L575.80,194.91 L576.02,194.97 L576.25,195.04 L576.44,195.10M578.04,195.56 L578.07,195.57 L578.30,195.64 L578.52,195.70 L578.75,195.77 L578.98,195.83 L579.20,195.90 L579.43,195.96 L579.66,196.03 L579.84,196.08M581.45,196.53 L581.48,196.54 L581.70,196.60 L581.93,196.66 L582.16,196.73 L582.39,196.79 L582.61,196.85 L582.84,196.91 L583.07,196.98 L583.25,197.03M584.87,197.46 L584.89,197.47 L585.11,197.53 L585.34,197.59 L585.57,197.65 L585.79,197.71 L586.02,197.77 L586.25,197.83 L586.48,197.89 L586.67,197.94M588.29,198.37 L588.52,198.42 L588.75,198.48 L588.98,198.54 L589.20,198.60 L589.43,198.66 L589.66,198.72 L589.89,198.77 L590.11,198.83M591.74,199.24 L591.93,199.29 L592.16,199.34 L592.39,199.40 L592.61,199.46 L592.84,199.51 L593.07,199.57 L593.29,199.62 L593.52,199.68 L593.56,199.69M595.19,200.08 L595.34,200.12 L595.57,200.18 L595.79,200.23 L596.02,200.28 L596.25,200.34 L596.48,200.39 L596.70,200.45 L596.93,200.50 L597.01,200.52M598.65,200.90 L598.75,200.92 L598.98,200.98 L599.20,201.03 L599.43,201.08 L599.66,201.13 L599.88,201.19 L600.11,201.24 L600.34,201.29 L600.48,201.32M602.12,201.69 L602.16,201.70 L602.38,201.75 L602.61,201.80 L602.84,201.85 L603.07,201.90 L603.29,201.95 L603.52,202.00 L603.75,202.05 L603.95,202.10M605.60,202.46 L605.79,202.50 L606.02,202.55 L606.25,202.60 L606.47,202.65 L606.70,202.70 L606.93,202.74 L607.16,202.79 L607.38,202.84 L607.43,202.85M609.08,203.20 L609.20,203.22 L609.43,203.27 L609.66,203.32 L609.88,203.37 L610.11,203.41 L610.34,203.46 L610.57,203.51 L610.79,203.55 L610.92,203.58M612.57,203.92 L612.61,203.92 L612.84,203.97 L613.07,204.01 L613.29,204.06 L613.52,204.11 L613.75,204.15 L613.97,204.20 L614.20,204.24 L614.42,204.29M616.07,204.61 L616.25,204.64 L616.47,204.69 L616.70,204.73 L616.93,204.78 L617.16,204.82 L617.38,204.86 L617.61,204.91 L617.84,204.95 L617.92,204.97M619.58,205.28 L619.66,205.30 L619.88,205.34 L620.11,205.38 L620.34,205.43 L620.56,205.47 L620.79,205.51 L621.02,205.55 L621.25,205.60 L621.43,205.63M623.09,205.94 L623.29,205.97 L623.52,206.01 L623.75,206.05 L623.97,206.10 L624.20,206.14 L624.43,206.18 L624.65,206.22 L624.88,206.26 L624.95,206.27M626.61,206.57 L626.70,206.58 L626.93,206.62 L627.15,206.66 L627.38,206.70 L627.61,206.74 L627.84,206.78 L628.06,206.82 L628.29,206.86 L628.47,206.89" fill="none" stroke="#ff0000" stroke-width="2.0"/>
<path d="M426.20,171.19 L426.54,171.19 L426.87,171.19 L427.21,171.19 L427.55,171.18 L427.88,171.18 L428.22,171.17 L428.55,171.17 L428.89,171.16 L429.23,171.16 L429.56,171.15 L429.90,171.14 L430.24,171.14 L430.57,171.13 L430.91,171.12 L431.25,171.11 L431.58,171.10 L431.92,171.10 L432.26,171.09 L432.59,171.08 L432.70,171.07M435.49,170.97 L435.62,170.97 L435.96,170.95 L436.29,170.94 L436.63,170.92 L436.96,170.91 L437.30,170.89 L437.64,170.88 L437.97,170.86 L438.31,170.84 L438.65,170.83 L438.98,170.81 L439.32,170.79 L439.66,170.77 L439.99,170.76 L440.33,170.74 L440.66,170.72 L441.00,170.70 L441.34,170.68 L441.67,170.66 L441.98,170.64M444.76,170.45 L445.04,170.43 L445.37,170.40 L445.71,170.38 L446.05,170.35 L446.38,170.33 L446.72,170.30 L447.06,170.28 L447.39,170.25 L447.73,170.22 L448.07,170.19 L448.40,170.17 L448.74,170.14 L449.07,170.11 L449.41,170.08 L449.75,170.05 L450.08,170.02 L450.42,169.99 L450.76,169.96 L451.09,169.93 L451.24,169.92M454.02,169.65 L454.12,169.64 L454.46,169.61 L454.79,169.57 L455.13,169.54 L455.47,169.50 L455.80,169.47 L456.14,169.43 L456.48,169.39 L456.81,169.36 L457.15,169.32 L457.48,169.28 L457.82,169.25 L458.16,169.21 L458.49,169.17 L458.83,169.13 L459.17,169.09 L459.50,169.06 L459.84,169.02 L460.18,168.98 L460.48,168.94M463.25,168.60 L463.54,168.56 L463.88,168.52 L464.21,168.48 L464.55,168.44 L464.89,168.39 L465.22,168.35 L465.56,168.30 L465.89,168.26 L466.23,168.21 L466.57,168.17 L466.90,168.12 L467.24,168.08 L467.58,168.03 L467.91,167.98 L468.25,167.94 L468.59,167.89 L468.92,167.84 L469.26,167.80 L469.59,167.75 L469.69,167.74M472.45,167.33 L472.62,167.31 L472.96,167.26 L473.30,167.21 L473.63,167.16 L473.97,167.10 L474.30,167.05 L474.64,167.00 L474.98,166.95 L475.31,166.90 L475.65,166.84 L475.99,166.79 L476.32,166.74 L476.66,166.68 L477.00,166.63 L477.33,166.58 L477.67,166.52 L478.00,166.47 L478.34,166.41 L478.68,166.36 L478.87,166.32M481.62,165.86 L481.71,165.84 L482.04,165.78 L482.38,165.72 L482.71,165.66 L483.05,165.61 L483.39,165.55 L483.72,165.48 L484.06,165.42 L484.40,165.36 L484.73,165.30 L485.07,165.24 L485.41,165.18 L485.74,165.11 L486.08,165.05 L486.41,164.99 L486.75,164.92 L487.09,164.86 L487.42,164.80 L487.76,164.73 L488.01,164.68M490.75,164.14 L490.79,164.13 L491.12,164.06 L491.46,163.99 L491.80,163.92 L492.13,163.85 L492.47,163.78 L492.81,163.71 L493.14,163.64 L493.48,163.57 L493.82,163.50 L494.15,163.42 L494.49,163.35 L494.82,163.28 L495.16,163.20 L495.50,163.13 L495.83,163.05 L496.17,162.98 L496.51,162.90 L496.84,162.83 L497.10,162.77M499.82,162.13 L499.87,162.12 L500.21,162.04 L500.54,161.96 L500.88,161.88 L501.22,161.79 L501.55,161.71 L501.89,161.63 L502.23,161.55 L502.56,161.46 L502.90,161.38 L503.23,161.29 L503.57,161.21 L503.91,161.12 L504.24,161.03 L504.58,160.95 L504.92,160.86 L505.25,160.77 L505.59,160.68 L505.93,160.59 L506.12,160.54M508.82,159.81 L508.95,159.77 L509.29,159.68 L509.63,159.58 L509.96,159.49 L510.30,159.39 L510.63,159.30 L510.97,159.20 L511.31,159.10 L511.64,159.01 L511.98,158.91 L512.32,158.81 L512.65,158.71 L512.99,158.61 L513.33,158.51 L513.66,158.41 L514.00,158.31 L514.34,158.21 L514.67,158.11 L515.01,158.01 L515.06,158.00M517.72,157.17 L518.04,157.08 L518.37,156.97 L518.71,156.86 L519.04,156.76 L519.38,156.65 L519.72,156.54 L520.05,156.43 L520.39,156.33 L520.73,156.22 L521.06,156.11 L521.40,156.00 L521.74,155.89 L522.07,155.78 L522.41,155.67 L522.75,155.56 L523.08,155.44 L523.42,155.33 L523.75,155.22 L523.91,155.17M526.55,154.27 L526.78,154.19 L527.12,154.07 L527.45,153.96 L527.79,153.84 L528.13,153.72 L528.46,153.60 L528.80,153.49 L529.14,153.37 L529.47,153.25 L529.81,153.13 L530.15,153.01 L530.48,152.89 L530.82,152.77 L531.15,152.65 L531.49,152.53 L531.83,152.40 L532.16,152.28 L532.50,152.16 L532.67,152.10M535.29,151.13 L535.53,151.04 L535.86,150.92 L536.20,150.79 L536.54,150.67 L536.87,150.54 L537.21,150.41 L537.55,150.28 L537.88,150.16 L538.22,150.03 L538.56,149.90 L538.89,149.77 L539.23,149.64 L539.56,149.51 L539.90,149.38 L540.24,149.25 L540.57,149.12 L540.91,148.99 L541.25,148.86 L541.37,148.82M543.96,147.79 L544.27,147.67 L544.61,147.53 L544.95,147.40 L545.28,147.26 L545.62,147.13 L545.96,146.99 L546.29,146.86 L546.63,146.72 L546.97,146.59 L547.30,146.45 L547.64,146.31 L547.97,146.17 L548.31,146.04 L548.65,145.90 L548.98,145.76 L549.32,145.62 L549.66,145.48 L549.98,145.34M552.55,144.26 L552.68,144.21 L553.02,144.07 L553.36,143.92 L553.69,143.78 L554.03,143.63 L554.37,143.49 L554.70,143.35 L555.04,143.20 L555.38,143.05 L555.71,142.91 L556.05,142.76 L556.38,142.62 L556.72,142.47 L557.06,142.32 L557.39,142.17 L557.73,142.03 L558.07,141.88 L558.40,141.73 L558.52,141.68M561.06,140.54 L561.09,140.52 L561.43,140.37 L561.77,140.22 L562.10,140.07 L562.44,139.91 L562.78,139.76 L563.11,139.60 L563.45,139.45 L563.79,139.29 L564.12,139.14 L564.46,138.98 L564.79,138.83 L565.13,138.67 L565.47,138.51 L565.80,138.35 L566.14,138.20 L566.48,138.04 L566.81,137.88 L566.96,137.81M569.48,136.61 L569.50,136.59 L569.84,136.43 L570.18,136.27 L570.51,136.11 L570.85,135.94 L571.19,135.78 L571.52,135.61 L571.86,135.45 L572.19,135.28 L572.53,135.12 L572.87,134.95 L573.20,134.79 L573.54,134.62 L573.88,134.45 L574.21,134.28 L574.55,134.12 L574.89,133.95 L575.22,133.78 L575.31,133.73M577.80,132.48 L577.91,132.42 L578.25,132.25 L578.59,132.08 L578.92,131.90 L579.26,131.73 L579.60,131.56 L579.93,131.39 L580.27,131.21 L580.60,131.04 L580.94,130.86 L581.28,130.69 L581.61,130.52 L581.95,130.34 L582.29,130.17 L582.62,129.99 L582.96,129.82 L583.30,129.64 L583.58,129.49M586.05,128.20 L586.32,128.05 L586.66,127.87 L587.00,127.69 L587.33,127.51 L587.67,127.34 L588.01,127.16 L588.34,126.98 L588.68,126.80 L589.01,126.62 L589.35,126.44 L589.69,126.26 L590.02,126.08 L590.36,125.90 L590.70,125.72 L591.03,125.54 L591.37,125.36 L591.71,125.18 L591.78,125.14M594.24,123.82 L594.40,123.73 L594.73,123.55 L595.07,123.37 L595.41,123.19 L595.74,123.01 L596.08,122.83 L596.42,122.64 L596.75,122.46 L597.09,122.28 L597.42,122.10 L597.76,121.92 L598.10,121.73 L598.43,121.55 L598.77,121.37 L599.11,121.19 L599.44,121.00 L599.78,120.82 L599.96,120.72M602.41,119.39 L602.47,119.36 L602.81,119.18 L603.14,119.00 L603.48,118.81 L603.82,118.63 L604.15,118.45 L604.49,118.27 L604.83,118.08 L605.16,117.90 L605.50,117.72 L605.83,117.54 L606.17,117.35 L606.51,117.17 L606.84,116.99 L607.18,116.80 L607.52,116.62 L607.85,116.44 L608.12,116.29M610.57,114.95 L610.88,114.78 L611.22,114.60 L611.55,114.41 L611.89,114.23 L612.23,114.04 L612.56,113.86 L612.90,113.67 L613.24,113.48 L613.57,113.30 L613.91,113.11 L614.24,112.92 L614.58,112.73 L614.92,112.54 L615.25,112.35 L615.59,112.17 L615.93,111.97 L616.25,111.79M618.67,110.40 L618.95,110.23 L619.29,110.04 L619.63,109.84 L619.96,109.64 L620.30,109.44 L620.64,109.24 L620.97,109.04 L621.31,108.83 L621.64,108.63 L621.98,108.43 L622.32,108.22 L622.65,108.01 L622.99,107.80 L623.33,107.60 L623.66,107.39 L624.00,107.17 L624.23,107.03M626.57,105.52 L626.69,105.44 L627.03,105.22 L627.36,104.99 L627.70,104.76" fill="none" stroke="#0000ff" stroke-width="1.5"/>
<circle cx="428.10" cy="36.00" r="2.7" fill="#ff0000"/>
<circle cx="444.50" cy="81.45" r="2.7" fill="#ff0000"/>
<circle cx="461.00" cy="112.95" r="2.7" fill="#ff0000"/>
<circle cx="477.50" cy="135.58" r="2.7" fill="#ff0000"/>
<circle cx="494.10" cy="152.48" r="2.7" fill="#ff0000"/>
<circle cx="510.50" cy="165.24" r="2.7" fill="#ff0000"/>
<circle cx="526.80" cy="175.18" r="2.7" fill="#ff0000"/>
<circle cx="543.60" cy="183.34" r="2.7" fill="#ff0000"/>
<circle cx="560.10" cy="189.82" r="2.7" fill="#ff0000"/>
<circle cx="576.60" cy="195.14" r="2.7" fill="#ff0000"/>
<circle cx="593.00" cy="199.55" r="2.7" fill="#ff0000"/>
<circle cx="609.50" cy="203.29" r="2.7" fill="#ff0000"/>
<circle cx="626.00" cy="206.46" r="2.7" fill="#ff0000"/>
<rect x="424" y="30" width="206" height="1" fill="#a6a6a6" shape-rendering="crispEdges"/>
<rect x="424" y="31" width="206" height="1" fill="#868686" shape-rendering="crispEdges"/>
<rect x="424" y="32" width="1" height="204" fill="#444" shape-rendering="crispEdges"/>
<rect x="629" y="30" width="1" height="206" fill="#444" shape-rendering="crispEdges"/>
<rect x="424" y="235" width="206" height="1" fill="#242424" shape-rendering="crispEdges"/>
<path d="M475.75,235.5 v-3.2 M475.75,32.0 v3.2" stroke="#2a2a2a" stroke-width="1"/>
<path d="M527.00,235.5 v-3.2 M527.00,32.0 v3.2" stroke="#2a2a2a" stroke-width="1"/>
<path d="M578.25,235.5 v-3.2 M578.25,32.0 v3.2" stroke="#2a2a2a" stroke-width="1"/>
<path d="M424.5,167.33 h3.2" stroke="#2a2a2a" stroke-width="1"/>
<path d="M424.5,99.17 h3.2" stroke="#2a2a2a" stroke-width="1"/>
<path d="M629.5,184.38 h-3.2" stroke="#2a2a2a" stroke-width="1"/>
<path d="M629.5,133.25 h-3.2" stroke="#2a2a2a" stroke-width="1"/>
<path d="M629.5,82.12 h-3.2" stroke="#2a2a2a" stroke-width="1"/>
<text transform="translate(361.08,242.00) scale(0.9935,1)" font-size="15.4" font-family="Liberation Sans, sans-serif" fill="#000">0.0×</text>
<path d="M396.99,242.00 L395.64,242.00 L395.64,233.74 Q395.16,234.19 394.37,234.64 Q393.58,235.08 392.95,235.31 L392.95,234.05 Q394.08,233.54 394.92,232.82 Q395.77,232.09 396.12,231.41 L396.99,231.41Z" fill="#000"/>
<text transform="translate(399.79,242.00) scale(0.9935,1)" font-size="15.4" font-family="Liberation Sans, sans-serif" fill="#000">0</text>
<text transform="translate(408.25,233.90) scale(1.0000,1)" font-size="11.2" text-anchor="start" font-family="Liberation Sans, sans-serif" fill="#000">0</text>
<text transform="translate(361.08,173.83) scale(0.9935,1)" font-size="15.4" font-family="Liberation Sans, sans-serif" fill="#000">4.0×</text>
<path d="M396.99,173.83 L395.64,173.83 L395.64,165.58 Q395.16,166.02 394.37,166.47 Q393.58,166.92 392.95,167.14 L392.95,165.89 Q394.08,165.38 394.92,164.65 Q395.77,163.92 396.12,163.24 L396.99,163.24Z" fill="#000"/>
<text transform="translate(399.79,173.83) scale(0.9935,1)" font-size="15.4" font-family="Liberation Sans, sans-serif" fill="#000">0</text>
<text transform="translate(408.25,165.73) scale(1.0000,1)" font-size="11.2" text-anchor="start" font-family="Liberation Sans, sans-serif" fill="#000">4</text>
<text transform="translate(361.08,105.67) scale(0.9935,1)" font-size="15.4" font-family="Liberation Sans, sans-serif" fill="#000">8.0×</text>
<path d="M396.99,105.67 L395.64,105.67 L395.64,97.41 Q395.16,97.86 394.37,98.30 Q393.58,98.75 392.95,98.97 L392.95,97.72 Q394.08,97.21 394.92,96.48 Q395.77,95.76 396.12,95.07 L396.99,95.07Z" fill="#000"/>
<text transform="translate(399.79,105.67) scale(0.9935,1)" font-size="15.4" font-family="Liberation Sans, sans-serif" fill="#000">0</text>
<text transform="translate(408.25,97.57) scale(1.0000,1)" font-size="11.2" text-anchor="start" font-family="Liberation Sans, sans-serif" fill="#000">4</text>
<path d="M366.78,37.50 L365.44,37.50 L365.44,29.24 Q364.95,29.69 364.17,30.14 Q363.38,30.58 362.75,30.81 L362.75,29.55 Q363.88,29.04 364.72,28.32 Q365.57,27.59 365.92,26.91 L366.78,26.91Z" fill="#000"/>
<text transform="translate(369.59,37.50) scale(0.9935,1)" font-size="15.4" font-family="Liberation Sans, sans-serif" fill="#000">.2×</text>
<path d="M396.99,37.50 L395.64,37.50 L395.64,29.24 Q395.16,29.69 394.37,30.14 Q393.58,30.58 392.95,30.81 L392.95,29.55 Q394.08,29.04 394.92,28.32 Q395.77,27.59 396.12,26.91 L396.99,26.91Z" fill="#000"/>
<text transform="translate(399.79,37.50) scale(0.9935,1)" font-size="15.4" font-family="Liberation Sans, sans-serif" fill="#000">0</text>
<text transform="translate(408.25,29.40) scale(1.0000,1)" font-size="11.2" text-anchor="start" font-family="Liberation Sans, sans-serif" fill="#000">5</text>
<path d="M649.02,240.50 L647.63,240.50 L647.63,232.03 Q647.12,232.49 646.30,232.95 Q645.48,233.40 644.83,233.63 L644.83,232.35 Q646.00,231.82 646.88,231.08 Q647.76,230.33 648.12,229.63 L649.02,229.63Z" fill="#000"/>
<text transform="translate(651.94,240.50) scale(1.0063,1)" font-size="15.8" font-family="Liberation Sans, sans-serif" fill="#000">3</text>
<path d="M649.02,189.38 L647.63,189.38 L647.63,180.91 Q647.12,181.36 646.30,181.82 Q645.48,182.28 644.83,182.51 L644.83,181.22 Q646.00,180.70 646.88,179.95 Q647.76,179.21 648.12,178.51 L649.02,178.51Z" fill="#000"/>
<text transform="translate(651.94,189.38) scale(1.0063,1)" font-size="15.8" font-family="Liberation Sans, sans-serif" fill="#000">4</text>
<path d="M649.02,138.25 L647.63,138.25 L647.63,129.78 Q647.12,130.24 646.30,130.70 Q645.48,131.15 644.83,131.38 L644.83,130.10 Q646.00,129.57 646.88,128.83 Q647.76,128.08 648.12,127.38 L649.02,127.38Z" fill="#000"/>
<text transform="translate(651.94,138.25) scale(1.0063,1)" font-size="15.8" font-family="Liberation Sans, sans-serif" fill="#000">5</text>
<path d="M649.02,87.12 L647.63,87.12 L647.63,78.66 Q647.12,79.11 646.30,79.57 Q645.48,80.03 644.83,80.26 L644.83,78.97 Q646.00,78.45 646.88,77.70 Q647.76,76.96 648.12,76.26 L649.02,76.26Z" fill="#000"/>
<text transform="translate(651.94,87.12) scale(1.0063,1)" font-size="15.8" font-family="Liberation Sans, sans-serif" fill="#000">6</text>
<path d="M649.02,36.00 L647.63,36.00 L647.63,27.53 Q647.12,27.99 646.30,28.45 Q645.48,28.90 644.83,29.13 L644.83,27.85 Q646.00,27.32 646.88,26.58 Q647.76,25.83 648.12,25.13 L649.02,25.13Z" fill="#000"/>
<text transform="translate(651.94,36.00) scale(1.0063,1)" font-size="15.8" font-family="Liberation Sans, sans-serif" fill="#000">7</text>
<text transform="translate(426.15,255.85) scale(0.9748,1)" font-size="15.9" text-anchor="middle" font-family="Liberation Sans, sans-serif" fill="#000">0</text>
<text transform="translate(477.60,255.85) scale(0.9748,1)" font-size="15.9" text-anchor="middle" font-family="Liberation Sans, sans-serif" fill="#000">0.0025</text>
<text transform="translate(529.05,255.85) scale(0.9748,1)" font-size="15.9" text-anchor="middle" font-family="Liberation Sans, sans-serif" fill="#000">0.005</text>
<text transform="translate(580.50,255.85) scale(0.9748,1)" font-size="15.9" text-anchor="middle" font-family="Liberation Sans, sans-serif" fill="#000">0.0075</text>
<text transform="translate(616.87,255.85) scale(0.9748,1)" font-size="15.9" font-family="Liberation Sans, sans-serif" fill="#000">0.0</text>
<path d="M644.19,255.85 L642.83,255.85 L642.83,247.33 Q642.33,247.79 641.54,248.25 Q640.74,248.71 640.10,248.94 L640.10,247.65 Q641.24,247.12 642.10,246.37 Q642.95,245.62 643.31,244.91 L644.19,244.91Z" fill="#000"/>
<text transform="translate(510.20,279.30) scale(0.9634,1)" font-size="15.85" text-anchor="start" font-family="Liberation Sans, sans-serif" fill="#000">Im(ε)</text>
<text transform="translate(422.96,14.15) scale(1.0722,1)" font-size="18" text-anchor="start" font-family="Liberation Sans, sans-serif" fill="#000">(b)</text>
<text transform="translate(347.80,233.60) rotate(-90) scale(0.9929,1)" font-size="15.5" text-anchor="start" font-family="Liberation Sans, sans-serif" fill="#000">Normalized maximal intensity</text>
<text transform="translate(688.80,212.70) rotate(-90) scale(0.9955,1)" font-size="15.5" text-anchor="start" font-family="Liberation Sans, sans-serif" fill="#000">Effective diameter (nm)</text>
<path d="M465.90,128.50 L436.15,128.50" stroke="#000" stroke-width="0.9" fill="none"/>
<path d="M427.35,128.50 L437.65,124.80 L436.15,128.50 L437.65,132.20 Z" fill="#000"/>
<path d="M566.20,182.90 L609.40,184.15" stroke="#000" stroke-width="0.9" fill="none"/>
<path d="M618.20,184.40 L607.80,187.80 L609.40,184.15 L608.01,180.40 Z" fill="#000"/>
</svg>
</body></html>
